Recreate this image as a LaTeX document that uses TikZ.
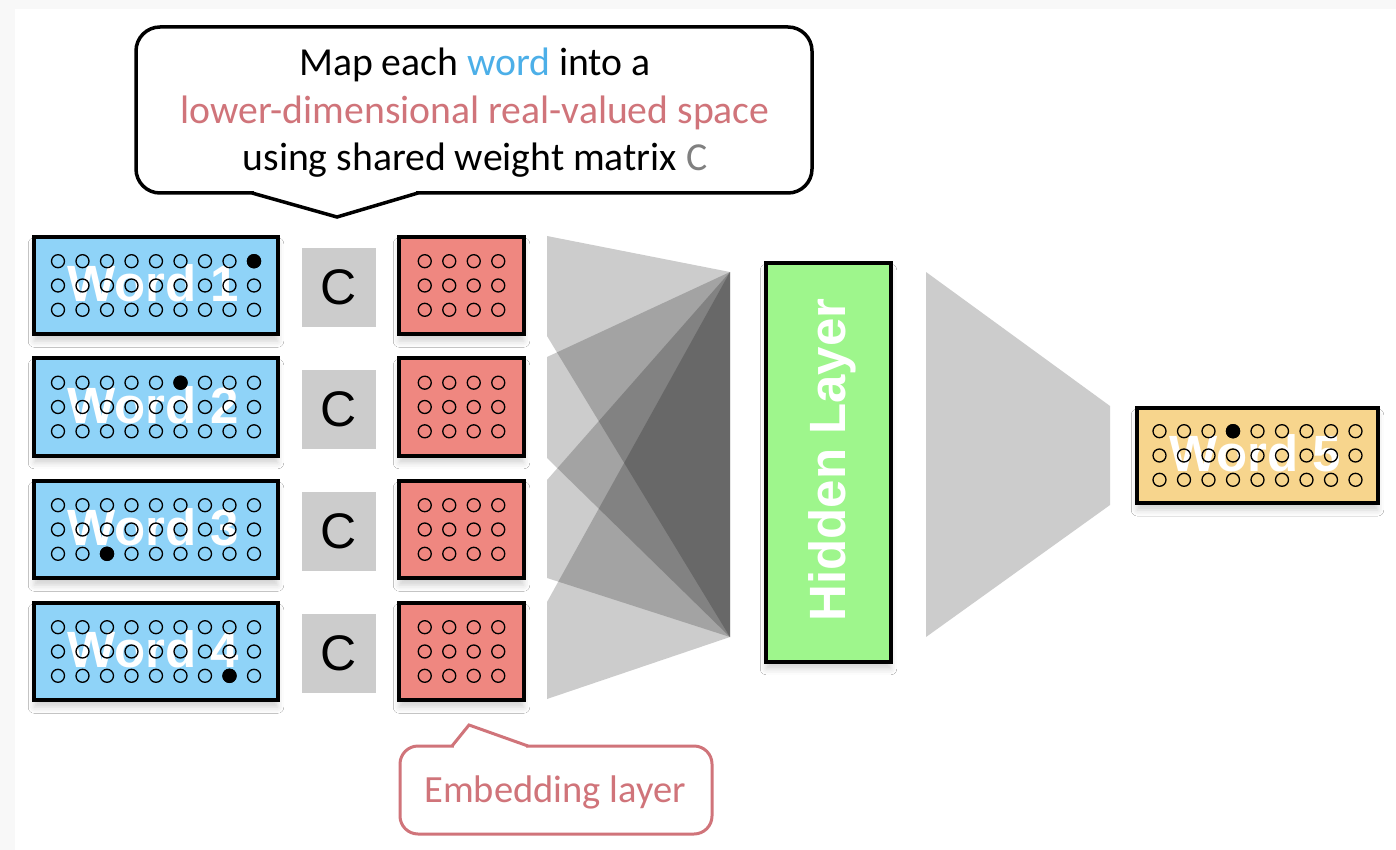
\documentclass[tikz,border=0pt]{standalone}
\usepackage{fontspec}
\setmainfont{Carlito}
\newfontfamily\helv{Liberation Sans}
\usetikzlibrary{shadows.blur}
\definecolor{bggray}{RGB}{248,248,248}
\definecolor{wblue}{RGB}{143,211,248}
\definecolor{ered}{RGB}{239,135,128}
\definecolor{hgreen}{RGB}{158,246,140}
\definecolor{oyellow}{RGB}{247,213,141}
\definecolor{cgray}{RGB}{204,204,204}
\definecolor{tblue}{RGB}{76,175,232}
\definecolor{tpink}{RGB}{208,116,122}
\definecolor{tgray}{RGB}{128,128,128}
\newcommand\ringgrid[5]{%
  \foreach \cc in {0,...,#2}{\foreach \rr in {-1,0,1}{%
    \draw[ring] ([shift={({(\cc-#3)*24.5},{\rr*24.3})}]#1) circle (6.5);}}%
  \fill ([shift={({(#4-#3)*24.5},{#5*24.3})}]#1) circle (7.2);%
}
\newcommand\ringgridplain[3]{%
  \foreach \cc in {0,...,#2}{\foreach \rr in {-1,0,1}{%
    \draw[ring] ([shift={({(\cc-#3)*24.5},{\rr*24.3})}]#1) circle (6.5);}}%
}
\tikzset{
  box/.style={draw=black, line width=4.3pt, inner sep=0pt,
    minimum width=243.5pt, minimum height=97.5pt,
    blur shadow={shadow xshift=0pt, shadow yshift=-7pt, shadow blur radius=6pt, shadow opacity=18}},
  wordbox/.style={box, fill=wblue},
  outbox/.style={box, fill=oyellow, minimum width=240.5pt, minimum height=95pt},
  embbox/.style={box, fill=ered, minimum width=124.5pt},
  hidbox/.style={box, fill=hgreen, minimum width=124.5pt, minimum height=398.5pt},
  cbox/.style={fill=cgray, inner sep=0pt, minimum width=74pt, minimum height=79pt,
    font=\helv\fontsize{50}{50}\selectfont},
  wordtxt/.style={text=white, font=\helv\bfseries\fontsize{51}{51}\selectfont, inner sep=0pt},
  ring/.style={draw=black, line width=1.3pt},
  fan/.style={fill=black, fill opacity=0.2},
  outfan/.style={fill=cgray},
  callout/.style={draw=black, line width=3.5pt, fill=white, rounded corners=24pt},
  embcallout/.style={draw=tpink, line width=3pt, fill=white, rounded corners=18pt},
  callouttxt/.style={font=\fontsize{39.7}{47.5}\selectfont, align=center, inner sep=0pt},
}
\begin{document}
\begin{tikzpicture}[x=1pt,y=-1pt]
\useasboundingbox (0,0) rectangle (1396,850);
\fill[bggray] (0,0) rectangle (1396,850);
\fill[white] (15,9) rectangle (1396,850);

% fans into hidden layer
\coordinate (ht) at (730,272);
\coordinate (hb) at (730,637);
\fill[fan] (547,236) -- (ht) -- (hb) -- (547,336) -- cycle;
\fill[fan] (547,357) -- (ht) -- (hb) -- (547,458) -- cycle;
\fill[fan] (547,480) -- (ht) -- (hb) -- (547,578) -- cycle;
\fill[fan] (547,602) -- (ht) -- (hb) -- (547,699) -- cycle;
% fan to output
\coordinate (ot) at (926,272);
\coordinate (ob) at (926,637);
\coordinate (ont) at (1110,406);
\coordinate (onb) at (1110,505);
\fill[outfan] (ot) -- (ont) -- (onb) -- (ob) -- cycle;

% word boxes
\node[wordbox] (w1) at (156,285.5) {};
\node[wordbox] (w2) at (156,407) {};
\node[wordbox] (w3) at (156,529.5) {};
\node[wordbox] (w4) at (156,651.5) {};
\node[wordtxt] (t1) at (153,283) {Word 1};
\node[wordtxt] (t2) at (153,405) {Word 2};
\node[wordtxt] (t3) at (153,527) {Word 3};
\node[wordtxt] (t4) at (153,649) {Word 4};
\ringgrid{w1.center}{8}{4}{8}{-1}
\ringgrid{w2.center}{8}{4}{5}{-1}
\ringgrid{w3.center}{8}{4}{2}{1}
\ringgrid{w4.center}{8}{4}{7}{1}

% C boxes
\node[cbox] (c1) at (339,287.5) {C};
\node[cbox] (c2) at (339,409.5) {C};
\node[cbox] (c3) at (339,531.5) {C};
\node[cbox] (c4) at (339,653.5) {C};

% embedding boxes
\node[embbox] (r1) at (461.5,285.5) {};
\node[embbox] (r2) at (461.5,407) {};
\node[embbox] (r3) at (461.5,529.5) {};
\node[embbox] (r4) at (461.5,651.5) {};
\ringgridplain{r1.center}{3}{1.5}
\ringgridplain{r2.center}{3}{1.5}
\ringgridplain{r3.center}{3}{1.5}
\ringgridplain{r4.center}{3}{1.5}

% hidden layer
\node[hidbox] (h) at (828.5,462.5) {};
\node[wordtxt, rotate=90] (htxt) at (832.5,460) {Hidden Layer};

% output word
\node[outbox] (w5) at (1257.5,455.5) {};
\node[wordtxt] (t5) at (1255,453) {Word 5};
\ringgrid{w5.center}{8}{4}{3}{-1}

% top callout
\draw[callout] (136,27) rectangle (812,193);
\fill[white] (254,188) rectangle (416,197);
\draw[black, line width=3.5pt, line join=miter] (252,193) -- (337,217) -- (418,193);
\node[callouttxt] (ct) at (475,113) {Map each \textcolor{tblue}{word} into a\\
\textcolor{tpink}{lower-dimensional real-valued space}\\
using shared weight matrix \textcolor{tgray}{C}};

% embedding callout
\draw[embcallout] (400,746) rectangle (712,834);
\fill[white] (454,742) rectangle (526,750);
\draw[tpink, line width=3pt, line join=miter] (452,746) -- (469,725) -- (528,746);
\node[font=\fontsize{38.5}{46}\selectfont, text=tpink, anchor=base] (el) at (555,802) {Embedding layer};
\end{tikzpicture}
\end{document}
